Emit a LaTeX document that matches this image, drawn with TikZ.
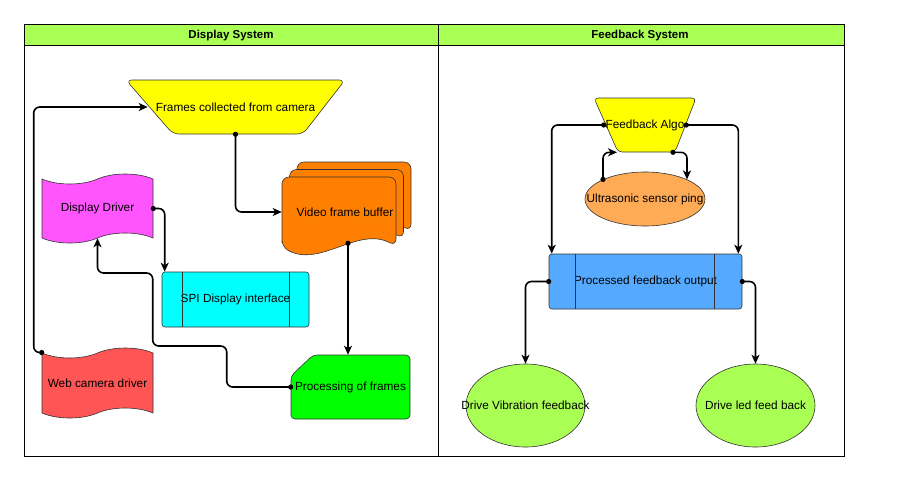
\documentclass[tikz,border=0pt]{standalone}
\usepackage{fontspec}
\setmainfont{Liberation Sans}
\usetikzlibrary{shapes.geometric,shapes.symbols,arrows.meta}

\definecolor{lanegreen}{HTML}{AAFF55}
\definecolor{camyellow}{HTML}{FFFF00}
\definecolor{bufforange}{HTML}{FF8000}
\definecolor{drvmagenta}{HTML}{FF55FF}
\definecolor{spicyan}{HTML}{00FFFF}
\definecolor{webred}{HTML}{FF5555}
\definecolor{procgreen}{HTML}{00FF00}
\definecolor{pingorange}{HTML}{FFAA55}
\definecolor{outblue}{HTML}{55AAFF}
\definecolor{edgegray}{HTML}{333333}

\tikzset{
  shp/.style={draw=edgegray, line width=0.6pt, inner sep=0pt,
    font=\fontsize{11.8}{13}\selectfont},
  lanehead/.style={font=\bfseries\fontsize{11.5}{13}\selectfont},
  conn/.style={line width=1.6pt, rounded corners=6pt,
    -{Stealth[length=9pt,width=8pt,inset=2.5pt]}},
}

\begin{document}
\begin{tikzpicture}[x=1pt,y=-1pt]
  \useasboundingbox (0,0) rectangle (899,483);
  % swim lanes
  \draw[line width=0.8pt, fill=lanegreen] (24,24) rectangle (844,45);
  \draw[line width=0.8pt] (24,24) rectangle (844,456) (438,24) -- (438,456);
  \node[lanehead] (dsys) at (231,35.5) {Display System};
  \node[lanehead] (fsys) at (640,35.5) {Feedback System};

  % display system
  \draw[shp, fill=camyellow, rounded corners=6pt]
    (126,80) -- (345,80) -- (303,134) -- (173,134) -- cycle;
  \node[shp, draw=none, minimum width=219, minimum height=54]
    (fcc) at (235.5,107) {Frames collected from camera};
  \foreach \d in {15,7.5,0}
    \draw[shp, fill=bufforange, rounded corners=7pt, shift={(\d,-\d)}]
      (282,247) -- (282,177) -- (396,177) -- (396,246)
      .. controls (358,226) and (320,268) .. (282,247) -- cycle;
  \node[shp, draw=none, minimum width=114, minimum height=70]
    (vfb) at (339,212) {\hspace*{12pt}Video frame buffer};
  \node[shp, tape, tape bend height=10, minimum width=111, minimum height=69,
    fill=drvmagenta] (dd) at (97.5,208.5) {Display Driver};
  \node[shp, rounded corners=3pt, minimum width=147, minimum height=55,
    fill=spicyan] (spi) at (235.5,299.5) {SPI Display interface};
  \draw[shp] ([xshift=21pt]spi.north west) -- ([xshift=21pt]spi.south west)
    ([xshift=-20pt]spi.north east) -- ([xshift=-20pt]spi.south east);
  \node[shp, tape, tape bend height=10, minimum width=111, minimum height=70,
    fill=webred] (wcd) at (97.5,383) {Web camera driver};
  \draw[shp, fill=procgreen, rounded corners=4pt]
    (291,376) -- (313,355) -- (410,355) -- (410,419) -- (291,419) -- cycle;
  \node[shp, draw=none, minimum width=119, minimum height=64]
    (pof) at (350.5,387) {Processing of frames};

  % feedback system
  \draw[shp, fill=camyellow, rounded corners=4pt]
    (594,98) -- (696,98) -- (675,152) -- (618,152) -- cycle;
  \node[shp, draw=none, minimum width=102, minimum height=54]
    (fa) at (645,125) {Feedback Algo};
  \node[shp, ellipse, minimum width=120, minimum height=54, fill=pingorange]
    (usp) at (645,199) {\makebox[0pt]{Ultrasonic sensor ping}};
  \node[shp, rounded corners=3pt, minimum width=193, minimum height=55,
    fill=outblue] (pfo) at (645.5,281.5) {Processed feedback output};
  \draw[shp] ([xshift=27pt]pfo.north west) -- ([xshift=27pt]pfo.south west)
    ([xshift=-28pt]pfo.north east) -- ([xshift=-28pt]pfo.south east);
  \node[shp, ellipse, minimum width=119, minimum height=83, fill=lanegreen]
    (dv) at (525.5,405.5) {\makebox[0pt]{Drive Vibration feedback}};
  \node[shp, ellipse, minimum width=119, minimum height=83, fill=lanegreen]
    (dl) at (755.5,405.5) {\makebox[0pt]{Drive led feed back}};

  \begin{scope}[conn]
    \draw (wcd.north west) -- ++(-8,0) |- ([xshift=22pt]fcc.west);
    \draw (fcc.south) |- (vfb.west);
    \draw ([xshift=9pt,yshift=4pt]vfb.south) -- ([xshift=9pt]vfb.south |- pof.north);
    \draw (dd.east) -| ([xshift=3pt]spi.north west);
    \draw (pof.west) -- ++(-64,0) -- ++(0,-41) -- ++(-74,0) -- ++(0,-73) -| (dd.south);
    \draw ([xshift=10pt]fa.west) -| ([xshift=3pt]pfo.north west);
    \draw ([xshift=-10pt]fa.east) -| ([xshift=-4pt]pfo.north east);
    \draw (usp.155) |- ([xshift=-28pt]fa.south);
    \draw ([xshift=28pt]fa.south) -| (usp.25);
    \draw (pfo.west) -| (dv.north);
    \draw (pfo.east) -| (dl.north);
  \end{scope}
  % start dots
  \foreach \p in {wcd.north west, fcc.south, dd.east, pof.west, usp.155,
      pfo.west, pfo.east}
    \fill (\p) circle[radius=2.6];
  \fill ([xshift=9pt,yshift=4pt]vfb.south) circle[radius=2.6]
    ([xshift=10pt]fa.west) circle[radius=2.6]
    ([xshift=-10pt]fa.east) circle[radius=2.6]
    ([xshift=28pt]fa.south) circle[radius=2.6];
\end{tikzpicture}
\end{document}
